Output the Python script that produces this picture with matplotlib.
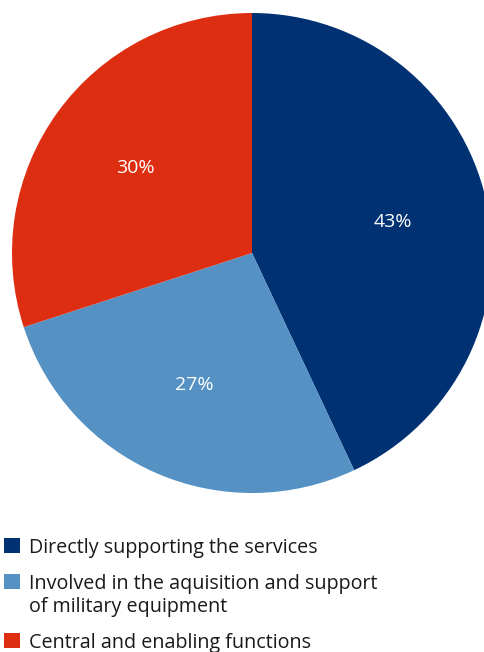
import matplotlib
matplotlib.use('Agg')
import matplotlib.pyplot as plt
from matplotlib.patches import Rectangle

plt.rcParams['font.family'] = ['Open Sans', 'DejaVu Sans']

categories = ['Directly supporting the services',
              'Involved in the aquisition and support\nof military equipment',
              'Central and enabling functions']
shares = [43, 27, 30]
colours = ['#003173', '#5592c3', '#de2e12']

W, H = 484, 652
fig = plt.figure(figsize=(W / 100, H / 100), dpi=100)
ax = fig.add_axes([0, 0, 1, 1])

wedges, texts, autotexts = ax.pie(
    shares, colors=colours, startangle=90, counterclock=False,
    center=(252, H - 253), radius=240, frame=True,
    autopct='%d%%', pctdistance=0.6,
    textprops=dict(color='white', fontsize=14),
    wedgeprops=dict(linewidth=0))
ax.set_xlim(0, W)
ax.set_ylim(0, H)
ax.set_aspect('equal')
ax.axis('off')

# legend drawn by hand so the square sits on the first line of each entry
baselines = [553, 589, 648]   # first-line baseline, pixel rows from the top
line_step = 23
sq = 15.5
for label, colour, yb in zip(categories, colours, baselines):
    fig.add_artist(Rectangle((4 / W, 1 - yb / H), sq / W, sq / H,
                             transform=fig.transFigure, color=colour, lw=0))
    # multi-line text anchors 'baseline' on its last line
    y_last = yb + label.count('\n') * line_step
    fig.text(29 / W, 1 - y_last / H, label, fontsize=14.2, color='#1a1a1a',
             ha='left', va='baseline', linespacing=1.22)

fig.savefig('out.png', dpi=100)
